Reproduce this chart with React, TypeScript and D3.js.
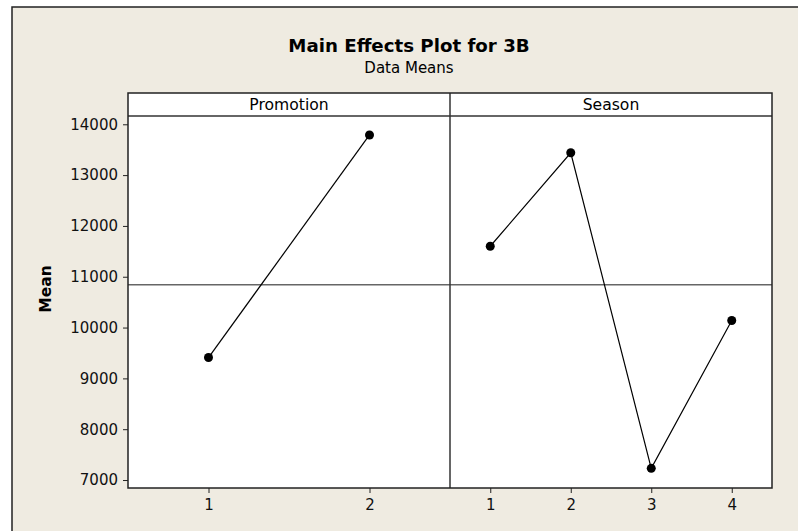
import React, { useRef, useEffect } from "react";
import * as d3 from "d3";

// values
const promotionLevels = ["1", "2"];
const promotionMeans = [9410, 13790];
const seasonLevels = ["1", "2", "3", "4"];
const seasonMeans = [11600, 13440, 7230, 10140];
const overallMean = 10840;
const yTicks = [7000, 8000, 9000, 10000, 11000, 12000, 13000, 14000];
const factorNames = ["Promotion", "Season"];

const FONT = "'DejaVu Sans', Verdana, sans-serif";

function MainEffectsPlot({ width = 798, height = 531 }) {
  const svgRef = useRef(null);

  useEffect(() => {
    const svg = d3.select(svgRef.current);
    svg.selectAll("*").remove();

    const left = 128, right = 772, mid = 450;
    const headerTop = 93, headerBottom = 116, bottom = 488;

    // outer frame (cropped by the image on the right / bottom)
    svg.append("rect")
      .attr("x", 12).attr("y", 7)
      .attr("width", 820).attr("height", 560)
      .attr("fill", "#EFEBE1")
      .attr("stroke", "#222")
      .attr("stroke-width", 1.5);

    svg.append("text")
      .attr("x", 409).attr("y", 52)
      .attr("text-anchor", "middle")
      .attr("font-family", FONT)
      .attr("font-weight", "bold")
      .attr("font-size", 18.2)
      .text("Main Effects Plot for 3B");

    svg.append("text")
      .attr("x", 409).attr("y", 73)
      .attr("text-anchor", "middle")
      .attr("font-family", FONT)
      .attr("font-size", 15)
      .text("Data Means");

    const yScale = d3.scaleLinear()
      .domain([6843, 14163])
      .range([bottom, headerBottom]);

    const panels = [
      { name: factorNames[0], levels: promotionLevels, means: promotionMeans, x0: left, x1: mid },
      { name: factorNames[1], levels: seasonLevels, means: seasonMeans, x0: mid, x1: right },
    ];

    // white plot region + header
    svg.append("rect")
      .attr("x", left).attr("y", headerTop)
      .attr("width", right - left).attr("height", bottom - headerTop)
      .attr("fill", "#fff");

    // y axis
    const yAxis = svg.append("g")
      .attr("transform", `translate(${left},0)`)
      .call(d3.axisLeft(yScale).tickValues(yTicks).tickSize(5).tickPadding(5).tickFormat(d3.format("d")));
    yAxis.select(".domain").remove();
    yAxis.selectAll("line").attr("stroke", "#222");
    yAxis.selectAll("text")
      .attr("font-family", FONT)
      .attr("font-size", 15)
      .attr("fill", "#111");

    svg.append("text")
      .attr("transform", "translate(51,289) rotate(-90)")
      .attr("text-anchor", "middle")
      .attr("font-family", FONT)
      .attr("font-weight", "bold")
      .attr("font-size", 15.5)
      .text("Mean");

    // reference line at the overall mean
    svg.append("line")
      .attr("x1", left).attr("x2", right)
      .attr("y1", yScale(overallMean)).attr("y2", yScale(overallMean))
      .attr("stroke", "#666")
      .attr("stroke-width", 1.5);

    panels.forEach(p => {
      const xScale = d3.scalePoint()
        .domain(p.levels)
        .range([p.x0, p.x1])
        .padding(0.5);

      const xAxis = svg.append("g")
        .attr("transform", `translate(0,${bottom})`)
        .call(d3.axisBottom(xScale).tickSize(5).tickPadding(6));
      xAxis.select(".domain").remove();
      xAxis.selectAll("line").attr("stroke", "#222");
      xAxis.selectAll("text")
        .attr("font-family", FONT)
        .attr("font-size", 15)
        .attr("fill", "#111");

      svg.append("text")
        .attr("x", (p.x0 + p.x1) / 2).attr("y", headerBottom - 6)
        .attr("text-anchor", "middle")
        .attr("font-family", FONT)
        .attr("font-size", 15.6)
        .text(p.name);

      const pts = p.levels.map((l, i) => [xScale(l), yScale(p.means[i])]);

      svg.append("path")
        .datum(pts)
        .attr("fill", "none")
        .attr("stroke", "#000")
        .attr("stroke-width", 1.2)
        .attr("d", d3.line());

      svg.append("g")
        .selectAll("circle")
        .data(pts)
        .join("circle")
        .attr("cx", d => d[0])
        .attr("cy", d => d[1])
        .attr("r", 4.5)
        .attr("fill", "#000");
    });

    // borders
    svg.append("line")
      .attr("x1", left).attr("x2", right)
      .attr("y1", headerBottom).attr("y2", headerBottom)
      .attr("stroke", "#333").attr("stroke-width", 1.5);
    svg.append("line")
      .attr("x1", mid).attr("x2", mid)
      .attr("y1", headerTop).attr("y2", bottom)
      .attr("stroke", "#333").attr("stroke-width", 1.5);
    svg.append("rect")
      .attr("x", left).attr("y", headerTop)
      .attr("width", right - left).attr("height", bottom - headerTop)
      .attr("fill", "none")
      .attr("stroke", "#222")
      .attr("stroke-width", 1.5);
  }, [width, height]);

  return <svg ref={svgRef} width={width} height={height} style={{ display: "block" }}></svg>;
}

export default function App() {
  return (
    <div style={{ position: "absolute", left: 0, top: 0, background: "#fff" }}>
      <MainEffectsPlot />
    </div>
  );
}
